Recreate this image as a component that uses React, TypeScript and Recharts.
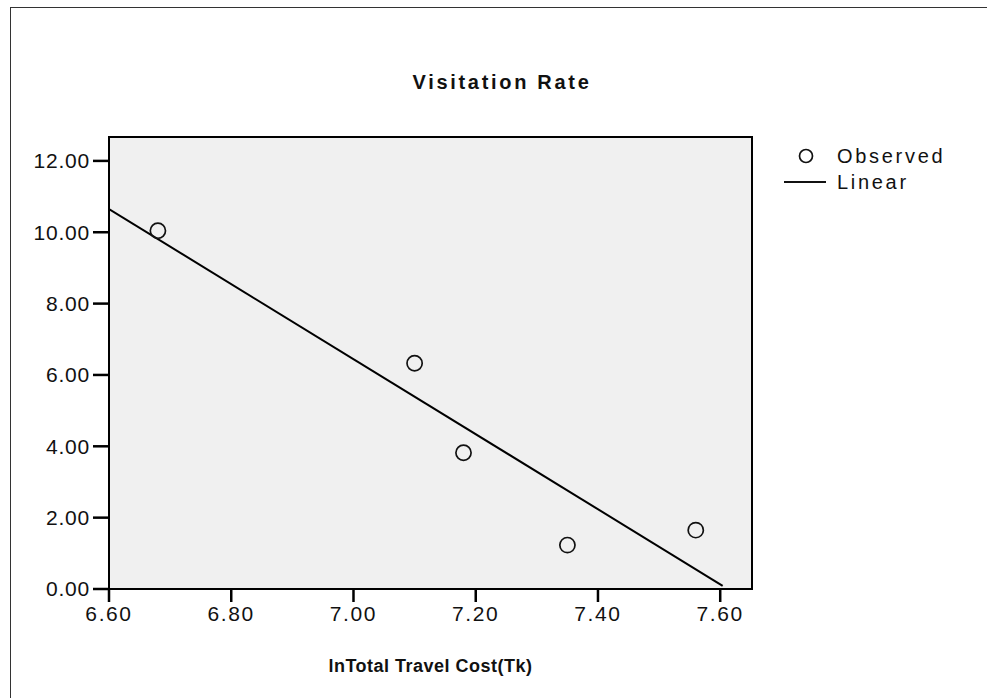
import React from "react";
import {
  ScatterChart,
  Scatter,
  XAxis,
  YAxis,
  CartesianGrid,
  ReferenceArea,
} from "recharts";

// observed points (ln travel cost vs visitation rate)
const lnCost = [6.68, 7.1, 7.18, 7.35, 7.56];
const visitRate = [10.04, 6.33, 3.82, 1.23, 1.65];

// linear fit, endpoints as drawn
const fitX = [6.6, 7.604];
const fitY = [10.65, 0.09];

const xTicks = [6.6, 6.8, 7.0, 7.2, 7.4, 7.6];
const yTicks = [0, 2, 4, 6, 8, 10, 12];

const X_MAX = 7.652;
const Y_MAX = 12.67;

const FONT = "'Liberation Sans', Arial, Helvetica, sans-serif";

const observed = lnCost.map((x, i) => ({ x, y: visitRate[i] }));
const linear = fitX.map((x, i) => ({ x, y: fitY[i] }));

const OpenCircle = (props: any) => {
  const { cx, cy } = props;
  if (cx == null || cy == null) return null;
  return <circle cx={cx} cy={cy} r={7.6} fill="none" stroke="#111" strokeWidth={1.7} />;
};

const NoDot = () => null;

const LegendBox = () => (
  <div
    style={{
      position: "absolute",
      left: 784,
      top: 143,
      fontFamily: FONT,
      fontSize: 20,
      color: "#111",
      letterSpacing: 2.7,
    }}
  >
    <div style={{ display: "flex", alignItems: "center", height: 26 }}>
      <svg width={46} height={20}>
        <circle cx={22} cy={10} r={6.5} fill="none" stroke="#111" strokeWidth={1.7} />
      </svg>
      <span style={{ marginLeft: 7 }}>Observed</span>
    </div>
    <div style={{ display: "flex", alignItems: "center", height: 26 }}>
      <svg width={46} height={20}>
        <line x1={0} y1={10} x2={42} y2={10} stroke="#111" strokeWidth={2} />
      </svg>
      <span style={{ marginLeft: 7 }}>Linear</span>
    </div>
  </div>
);

export default function App() {
  return (
    <div style={{ position: "absolute", left: 0, top: 0, width: 987, height: 698, background: "#fff", overflow: "hidden" }}>
      <div
        style={{
          position: "absolute",
          left: 10,
          top: 7,
          width: 1100,
          height: 800,
          borderLeft: "1px solid #333",
          borderTop: "1px solid #333",
        }}
      />
      <ScatterChart
        width={987}
        height={698}
        margin={{ top: 137, right: 235, left: 0, bottom: 0 }}
        style={{ position: "absolute", left: 0, top: 0 }}
      >
        <CartesianGrid horizontal={false} vertical={false} fill="#f0f0f0" />
        <XAxis
          type="number"
          dataKey="x"
          domain={[6.6, X_MAX]}
          ticks={xTicks}
          allowDataOverflow
          height={109}
          tickSize={13}
          tickMargin={4}
          tickFormatter={(v: number) => v.toFixed(2)}
          tick={{ fill: "#111", fontSize: 21, fontFamily: FONT, letterSpacing: 1.6 }}
          axisLine={{ stroke: "#000", strokeWidth: 2 }}
          tickLine={{ stroke: "#000", strokeWidth: 2.5 }}
          label={{
            value: "lnTotal Travel Cost(Tk)",
            position: "insideBottom",
            offset: 26,
            style: { fill: "#111", fontSize: 18, fontWeight: "bold", fontFamily: FONT, letterSpacing: 0.5 },
          }}
        />
        <YAxis
          type="number"
          dataKey="y"
          domain={[0, Y_MAX]}
          ticks={yTicks}
          allowDataOverflow
          width={109}
          tickSize={16}
          tickMargin={3}
          tickFormatter={(v: number) => v.toFixed(2)}
          tick={{ fill: "#111", fontSize: 21, fontFamily: FONT, letterSpacing: 0.8 }}
          axisLine={{ stroke: "#000", strokeWidth: 2 }}
          tickLine={{ stroke: "#000", strokeWidth: 2.5 }}
        />
        <ReferenceArea
          x1={6.6}
          x2={X_MAX}
          y1={0}
          y2={Y_MAX}
          fill="none"
          stroke="#000"
          strokeWidth={2}
          ifOverflow="visible"
        />
        <Scatter
          name="Linear"
          data={linear}
          line={{ stroke: "#000", strokeWidth: 2 }}
          shape={NoDot}
          isAnimationActive={false}
        />
        <Scatter name="Observed" data={observed} shape={OpenCircle} isAnimationActive={false} />
      </ScatterChart>
      <div
        style={{
          position: "absolute",
          left: 0,
          width: 1004,
          top: 71,
          textAlign: "center",
          fontFamily: FONT,
          fontWeight: "bold",
          fontSize: 20,
          letterSpacing: 2.7,
          color: "#111",
        }}
      >
        Visitation Rate
      </div>
      <LegendBox />
    </div>
  );
}
